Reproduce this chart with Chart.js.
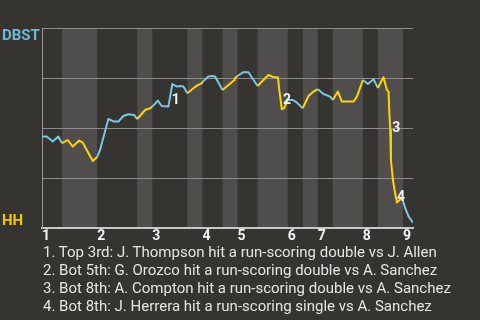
<!DOCTYPE html>
<html><head><meta charset="utf-8">
<script src="https://cdn.jsdelivr.net/npm/chart.js@4/dist/chart.umd.min.js"></script>
<style>
html,body{margin:0;padding:0;background:#363430;}
#wrap{position:relative;width:480px;height:320px;overflow:hidden;background:#363430;}
canvas{position:absolute;left:0;top:0;}
#notes{position:absolute;left:43px;top:244.3px;font:15px/17.8px Roboto,sans-serif;color:#e4e4e4;white-space:nowrap;}
</style></head><body>
<div id="wrap"><canvas id="c" width="480" height="320"></canvas><div id="notes"></div></div>
<script>
const teams = ['DBST', 'HH'];
const halfInningStarts = [0,4,11,19,22,29,32,36,39,43,49,52,55,58,64,67,72];
const lastEvent = 74;
const inningLabels = ['1','2','3','4','5','6','7','8','9'];
const eventX = [0,0.94,2.14,3.25,4,5.13,6.13,7.45,8.12,8.92,10.12,11,11.58,13.23,14.37,15.23,16.23,17.23,18.36,19,
  20.56,21.56,22,23.1,23.89,25.21,26.0,26.89,27.54,28.2,29,30.2,30.88,31.88,32,33.19,33.87,34.53,36,37.19,38.38,38.46,39,
  40.18,41.18,43,44.17,45.17,46.17,47.05,47.37,47.84,48.3,49,50.04,50.84,52,53.15,54.15,55,56.15,57.5,58,59.02,59.82,
  62.14,62.81,64,65.01,66.13,67,68.12,68.8,69.12,69.26,69.46,69.6,70,70.32,70.8,71.32,71.8,72,72.46,73.13,74];
const winProb = [0.457,0.457,0.432,0.457,0.424,0.44,0.407,0.437,0.427,0.39,0.335,0.355,0.39,0.545,0.532,0.532,0.56,0.569,0.565,0.545,
  0.59,0.599,0.607,0.637,0.61,0.607,0.72,0.707,0.71,0.707,0.674,0.699,0.712,0.724,0.73,0.757,0.76,0.757,0.69,0.715,0.74,0.749,0.76,
  0.779,0.779,0.71,0.74,0.765,0.754,0.754,0.682,0.594,0.599,0.64,0.64,0.627,0.599,0.66,0.682,0.694,0.67,0.657,0.64,0.682,0.632,
  0.632,0.657,0.74,0.72,0.744,0.70,0.754,0.69,0.682,0.59,0.49,0.34,0.24,0.19,0.127,0.14,0.149,0.135,0.099,0.057,0.027];
const noteMarks = ['1','2','3','4'];
const noteX = [26.7, 48.85, 70.66, 71.6];
const noteY = [0.637, 0.64, 0.4965, 0.1535];
const noteText = [
  '1. Top 3rd: J. Thompson hit a run-scoring double vs J. Allen',
  '2. Bot 5th: G. Orozco hit a run-scoring double vs A. Sanchez',
  '3. Bot 8th: A. Compton hit a run-scoring double vs A. Sanchez',
  '4. Bot 8th: J. Herrera hit a run-scoring single vs A. Sanchez'
];

const BLUE = '#7cc6e0', YELLOW = '#ffd400', TEAM_COLORS = ['#6fb9d3', '#f2c900'];
const inningStarts = halfInningStarts.filter((v, i) => i % 2 === 0);

function halfIndex(v) {
  let k = 0;
  for (let i = 0; i < halfInningStarts.length; i++) if (halfInningStarts[i] <= v) k = i;
  return k;
}

document.getElementById('notes').innerHTML = noteText.map(t => '<div>' + t + '</div>').join('');

const stripes = {
  id: 'stripes',
  beforeDraw(chart) {
    const {ctx, chartArea: a, scales: {x}} = chart;
    ctx.save();
    ctx.fillStyle = '#4f4e4c';
    for (let i = 1; i < halfInningStarts.length; i += 2) {
      const x0 = x.getPixelForValue(halfInningStarts[i]);
      const end = i + 1 < halfInningStarts.length ? halfInningStarts[i + 1] : lastEvent;
      const x1 = x.getPixelForValue(end);
      ctx.fillRect(x0, a.top, x1 - x0, a.bottom - a.top + 1);
    }
    ctx.restore();
  }
};

const texts = {
  id: 'texts',
  afterDatasetsDraw(chart) {
    const {ctx, chartArea: a, scales: {x, y}} = chart;
    ctx.save();
    ctx.font = 'bold 15px Roboto';
    ctx.textAlign = 'left';
    ctx.textBaseline = 'alphabetic';
    ctx.fillStyle = TEAM_COLORS[0];
    ctx.fillText(teams[0], 2, a.top + 11.5);
    ctx.fillStyle = TEAM_COLORS[1];
    ctx.fillText(teams[1], 2, a.bottom - 3);
    ctx.font = 'bold 14px Roboto';
    ctx.textAlign = 'center';
    ctx.textBaseline = 'middle';
    ctx.fillStyle = '#f2f2f2';
    noteMarks.forEach((m, i) => {
      ctx.fillText(m, x.getPixelForValue(noteX[i]), y.getPixelForValue(noteY[i]));
    });
    ctx.restore();
  }
};

new Chart(document.getElementById('c'), {
  type: 'line',
  data: {
    datasets: [{
      data: eventX.map((v, i) => ({x: v, y: winProb[i]})),
      borderWidth: 2,
      borderColor: BLUE,
      pointRadius: 0,
      tension: 0,
      fill: false,
      borderJoinStyle: 'round',
      segment: {
        borderColor: c => halfIndex((c.p0.parsed.x + c.p1.parsed.x) / 2) % 2 === 0 ? BLUE : YELLOW
      }
    }]
  },
  options: {
    responsive: false,
    animation: false,
    events: [],
    layout: {padding: {top: 28, right: 67, left: 0, bottom: 0}},
    plugins: {legend: {display: false}, tooltip: {enabled: false}, title: {display: false}},
    scales: {
      x: {
        type: 'linear', min: 0, max: lastEvent,
        afterFit: s => { s.height = 92; },
        afterBuildTicks: s => { s.ticks = inningStarts.map(v => ({value: v})); },
        grid: {display: false, drawTicks: false},
        border: {display: true, color: '#c8c8c8', width: 2},
        ticks: {
          align: 'start', padding: 0, autoSkip: false, maxRotation: 0, minRotation: 0,
          color: '#f2f2f2', font: {family: 'Roboto', size: 14, weight: 'bold', lineHeight: 1.2},
          callback: (v, i) => inningLabels[i]
        }
      },
      y: {
        min: 0, max: 1,
        afterFit: s => { s.width = 42; },
        ticks: {display: false, stepSize: 0.25},
        grid: {color: '#8c8c8c', lineWidth: 1, drawTicks: false},
        border: {color: '#9a9a9a', width: 1}
      }
    }
  },
  plugins: [stripes, texts]
});
</script>
</body></html>
